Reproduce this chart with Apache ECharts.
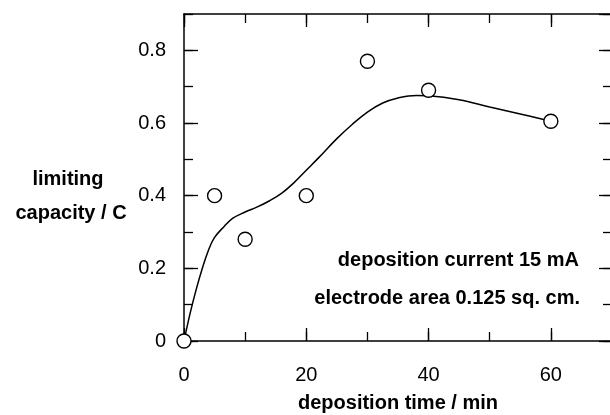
<!DOCTYPE html>
<html>
<head>
<meta charset="utf-8">
<script src="https://cdn.jsdelivr.net/npm/echarts@6/dist/echarts.min.js"></script>
<style>
  html, body { margin: 0; padding: 0; background: #fff; }
  #chart { width: 610px; height: 415px; }
</style>
</head>
<body>
<div id="chart"></div>
<script>
// measured points (deposition time in min, limiting capacity in C)
var pointTimes = [0, 5, 10, 20, 30, 40, 60];
var pointCapacity = [0, 0.40, 0.28, 0.40, 0.77, 0.69, 0.605];

// hand drawn fit curve
var curveTimes = [0, 1, 2, 3, 4, 5, 6.5, 8, 10, 12, 14, 16, 18, 20, 22, 25, 27.5, 30, 32.5, 35, 38, 40, 45, 50, 55, 60];
var curveCapacity = [0, 0.076, 0.142, 0.2, 0.25, 0.285, 0.314, 0.338, 0.355, 0.369, 0.386, 0.407, 0.436, 0.47, 0.504, 0.557, 0.596, 0.63, 0.655, 0.669, 0.676, 0.675, 0.664, 0.644, 0.625, 0.605];

var xMax = 70;
var yMax = 0.9;

var font = '"Liberation Sans", Arial, Helvetica, sans-serif';
var ink = '#000';

var chart = echarts.init(document.getElementById('chart'), null, { renderer: 'canvas' });

function zip(xs, ys) {
  return xs.map(function (x, i) { return [x, ys[i]]; });
}

function frameAxis(gridIndex, position, max, interval, tickLen, labels) {
  return {
    type: 'value',
    gridIndex: gridIndex,
    position: position,
    min: 0,
    max: max,
    interval: interval,
    axisLine: { show: gridIndex === 0, onZero: false, lineStyle: { color: ink, width: 1.5 } },
    axisTick: { show: true, inside: true, length: tickLen, lineStyle: { color: ink, width: 1.3 } },
    axisLabel: labels ? {
      show: true,
      showMaxLabel: false,
      color: ink,
      fontFamily: font,
      fontSize: 20,
      margin: position === 'bottom' ? 24 : 18
    } : { show: false },
    splitLine: { show: false }
  };
}

var xBottom = frameAxis(0, 'bottom', xMax, 20, 13, true);
xBottom.name = 'deposition time / min';
xBottom.nameLocation = 'middle';
xBottom.nameGap = 52;
xBottom.nameTextStyle = { color: ink, fontFamily: font, fontSize: 20, fontWeight: 'bold' };

var gridRect = { left: 184, top: 14, right: -2, bottom: 74, outerBoundsMode: 'none', containLabel: false };

function note(text, x, y, align) {
  return {
    type: 'text', x: x, y: y,
    style: { text: text, fill: ink, font: 'bold 20px ' + font, textAlign: align, textVerticalAlign: 'middle' }
  };
}

chart.setOption({
  backgroundColor: '#fff',
  animation: false,
  grid: [
    Object.assign({}, gridRect),
    Object.assign({}, gridRect)
  ],
  xAxis: [
    xBottom,
    frameAxis(0, 'top', xMax, 20, 13, false),
    frameAxis(1, 'bottom', xMax, 10, 9, false),
    frameAxis(1, 'top', xMax, 10, 9, false)
  ],
  yAxis: [
    frameAxis(0, 'left', yMax, 0.2, 14, true),
    frameAxis(0, 'right', yMax, 0.2, 13, false),
    frameAxis(1, 'left', yMax, 0.1, 9, false),
    frameAxis(1, 'right', yMax, 0.1, 9, false)
  ],
  graphic: [
    note('limiting', 68, 179, 'center'),
    note('capacity / C', 71, 213, 'center'),
    note('deposition current 15 mA', 579, 260, 'right'),
    note('electrode area 0.125 sq. cm.', 580, 298, 'right')
  ],
  series: [
    {
      type: 'line',
      xAxisIndex: 0,
      yAxisIndex: 0,
      data: zip(curveTimes, curveCapacity),
      smooth: 0.4,
      showSymbol: false,
      clip: false,
      lineStyle: { color: ink, width: 1.5 },
      z: 3
    },
    {
      type: 'scatter',
      xAxisIndex: 0,
      yAxisIndex: 0,
      data: zip(pointTimes, pointCapacity),
      symbol: 'circle',
      symbolSize: 14,
      clip: false,
      itemStyle: { color: '#fff', borderColor: ink, borderWidth: 1.4, opacity: 1 },
      z: 5
    }
  ]
});
</script>
</body>
</html>
